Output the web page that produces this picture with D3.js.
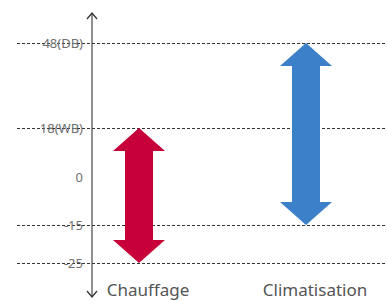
<!DOCTYPE html>
<html>
<head>
<meta charset="utf-8">
<script src="https://cdn.jsdelivr.net/npm/d3@7"></script>
<style>
  body { margin: 0; background: #fff; }
  text { font-family: "Noto Sans", sans-serif; }
</style>
</head>
<body>
<script>
// Data
const modes = ["Chauffage", "Climatisation"];
const lowTemps = [-25, -15];
const highTemps = [18, 48];
const tickValues = [48, 18, 0, -15, -25];
const tickLabels = ["48(DB)", "18(WB)", "0", "-15", "-25"];
const gridTicks = [48, 18, -15, -25];
const colors = ["#c70039", "#3b80c8"];

let width = 387, height = 301;

let svg = d3.select('body')
            .append('svg')
            .attr('width', width)
            .attr('height', height);

// The temperature axis is not evenly spaced in the picture
const y = d3.scaleLinear()
    .domain([-25, -15, 0, 18, 48])
    .range([263, 225, 177, 128, 43]);

const x = d3.scalePoint()
    .domain(modes)
    .range([139, 306]);

// Dashed grid lines
svg.selectAll("line.grid")
   .data(gridTicks)
   .enter()
   .append("line")
   .attr("class", "grid")
   .attr("x1", 17)
   .attr("x2", width)
   .attr("y1", d => y(d) + 0.5)
   .attr("y2", d => y(d) + 0.5)
   .attr("stroke", "#333")
   .attr("stroke-width", 1)
   .attr("stroke-dasharray", "3,2");

// Tick labels
svg.selectAll("text.tick")
   .data(tickValues)
   .enter()
   .append("text")
   .attr("class", "tick")
   .attr("x", 83)
   .attr("y", d => y(d) + 4.5)
   .attr("text-anchor", "end")
   .attr("fill", "#707070")
   .style("font-size", "13px")
   .text((d, i) => tickLabels[i]);

// Vertical axis with arrows on both ends
const axisX = 92;
svg.append("line")
   .attr("x1", axisX).attr("x2", axisX)
   .attr("y1", 13).attr("y2", 297)
   .attr("stroke", "#555")
   .attr("stroke-width", 1.3);

svg.append("path")
   .attr("d", `M${axisX - 5},19 L${axisX},13 L${axisX + 5},19`)
   .attr("fill", "none")
   .attr("stroke", "#333")
   .attr("stroke-width", 1.3);

svg.append("path")
   .attr("d", `M${axisX - 5},291 L${axisX},297 L${axisX + 5},291`)
   .attr("fill", "none")
   .attr("stroke", "#333")
   .attr("stroke-width", 1.3);

// Double-headed arrows for each mode
const headW = 26, headH = 23, shaftW = 14;
modes.forEach((m, i) => {
    const cx = x(m);
    const top = y(highTemps[i]);
    const bot = y(lowTemps[i]);
    const p = d3.path();
    p.moveTo(cx, top);
    p.lineTo(cx + headW, top + headH);
    p.lineTo(cx + shaftW, top + headH);
    p.lineTo(cx + shaftW, bot - headH);
    p.lineTo(cx + headW, bot - headH);
    p.lineTo(cx, bot);
    p.lineTo(cx - headW, bot - headH);
    p.lineTo(cx - shaftW, bot - headH);
    p.lineTo(cx - shaftW, top + headH);
    p.lineTo(cx - headW, top + headH);
    p.closePath();

    svg.append("path")
       .attr("d", p.toString())
       .attr("fill", colors[i]);

    svg.append("text")
       .attr("x", cx + 9)
       .attr("y", 296)
       .attr("text-anchor", "middle")
       .attr("fill", "#555")
       .style("font-size", "17px")
       .text(m);
});
</script>
</body>
</html>
